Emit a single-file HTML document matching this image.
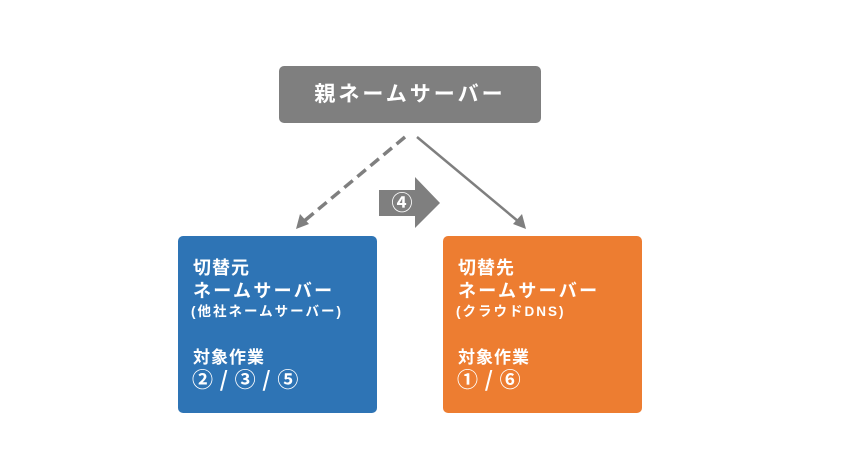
<!DOCTYPE html>
<html><head><meta charset="utf-8"><style>
body{margin:0;width:850px;height:475px;background:#fff;position:relative;overflow:hidden;font-family:"Liberation Sans","Noto Sans CJK JP",sans-serif;font-weight:bold;color:#fff}
.b{position:absolute;border-radius:5px}
.t{position:absolute;white-space:nowrap;line-height:1}
.c{font-family:"Noto Sans CJK JP",sans-serif;font-weight:bold}
</style></head><body>
<div class="b" style="left:279px;top:66px;width:262px;height:57px;background:#7f7f7f"></div>
<div class="t" style="left:279px;width:262px;top:84px;text-align:center;font-size:21px;letter-spacing:3px">親ネームサーバー</div>
<svg style="position:absolute;left:0;top:0" width="850" height="475">
<line x1="405" y1="137" x2="303" y2="222" stroke="#7f7f7f" stroke-width="3.5" stroke-dasharray="11,6"/>
<polygon points="296,229 300,214 309,224" fill="#7f7f7f"/>
<line x1="417" y1="137" x2="519" y2="222" stroke="#7f7f7f" stroke-width="2.5"/>
<polygon points="526,229 513,224 522,214" fill="#7f7f7f"/>
<polygon points="379,190 415,190 415,177 440,203 415,228 415,216 379,216" fill="#7f7f7f"/>
<text x="402" y="210" font-size="21" font-weight="bold" fill="#fff" text-anchor="middle" font-family="Noto Sans CJK JP,sans-serif">④</text>
</svg>
<div class="b" style="left:178px;top:236px;width:199px;height:177px;background:#2e74b5"></div>
<div class="b" style="left:443px;top:236px;width:199px;height:177px;background:#ed7d31"></div>
<div class="t" style="left:193px;top:259px;font-size:18px;letter-spacing:1px">切替元</div>
<div class="t" style="left:193px;top:282px;font-size:18px;letter-spacing:2.3px">ネームサーバー</div>
<div class="t" style="left:191px;top:305px;font-size:13.5px;letter-spacing:2px">(他社ネームサーバー)</div>
<div class="t" style="left:193px;top:349px;font-size:17px;letter-spacing:1px">対象作業</div>
<div class="t c" style="left:192px;top:369px;font-size:21px;letter-spacing:1px">② / ③ / ⑤</div>
<div class="t" style="left:458px;top:259px;font-size:18px;letter-spacing:1px">切替先</div>
<div class="t" style="left:458px;top:282px;font-size:18px;letter-spacing:2.3px">ネームサーバー</div>
<div class="t" style="left:456px;top:305px;font-size:13.5px;letter-spacing:2px">(クラウドDNS)</div>
<div class="t" style="left:458px;top:349px;font-size:17px;letter-spacing:1px">対象作業</div>
<div class="t c" style="left:457px;top:369px;font-size:21px;letter-spacing:1px">① / ⑥</div>
</body></html>
